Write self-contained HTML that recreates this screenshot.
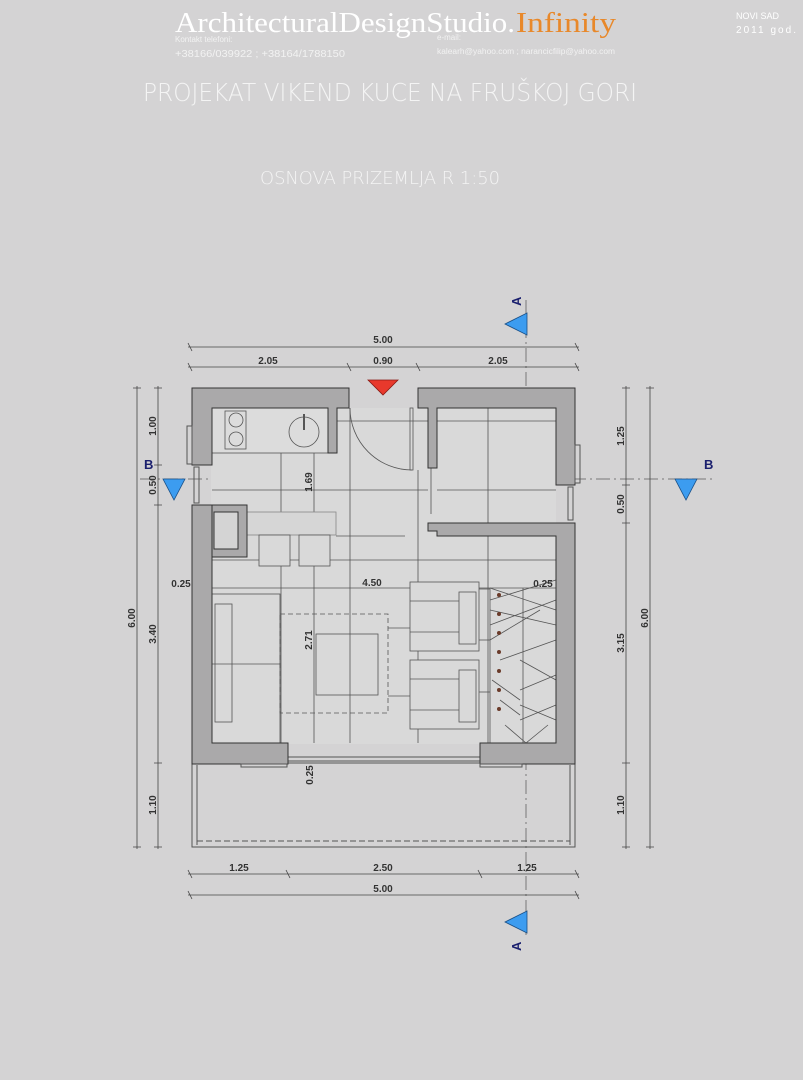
<!DOCTYPE html>
<html><head><meta charset="utf-8"><style>
html,body{margin:0;padding:0;background:#d4d3d4;}
svg{display:block;}
.d{font-family:"Liberation Sans",sans-serif;font-weight:bold;font-size:10px;fill:#333;}
</style></head><body>
<svg width="803" height="1080" viewBox="0 0 803 1080" xmlns="http://www.w3.org/2000/svg">
<rect width="803" height="1080" fill="#d4d3d4"/>
<!-- header -->
<text x="175" y="32" font-family="Liberation Serif,serif" font-size="29" fill="#fff" textLength="340" lengthAdjust="spacingAndGlyphs">ArchitecturalDesignStudio.</text>
<text x="516" y="32" font-family="Liberation Serif,serif" font-size="29" fill="#e8882a" textLength="100" lengthAdjust="spacingAndGlyphs">Infinity</text>
<text x="175" y="42" font-family="Liberation Sans,sans-serif" font-size="8" fill="#f2f2f2">Kontakt telefoni:</text>
<text x="175" y="57" font-family="Liberation Sans,sans-serif" font-size="10" fill="#f2f2f2" textLength="170" lengthAdjust="spacingAndGlyphs">+38166/039922 ; +38164/1788150</text>
<text x="437" y="40" font-family="Liberation Sans,sans-serif" font-size="8" fill="#f2f2f2">e-mail:</text>
<text x="437" y="54" font-family="Liberation Sans,sans-serif" font-size="8" fill="#f2f2f2" textLength="178" lengthAdjust="spacingAndGlyphs">kalearh@yahoo.com ; narancicfilip@yahoo.com</text>
<text x="736" y="19" font-family="Liberation Sans,sans-serif" font-size="9" fill="#fff">NOVI SAD</text>
<text x="736" y="33" font-family="Liberation Sans,sans-serif" font-size="10" fill="#fff" textLength="60">2011 god.</text>
<text x="143" y="101" font-family="DejaVu Sans,Liberation Sans,sans-serif" font-weight="200" font-size="25" fill="#f4f4f4" textLength="494" lengthAdjust="spacingAndGlyphs">PROJEKAT VIKEND KUCE NA FRUŠKOJ GORI</text>
<text x="260" y="184" font-family="DejaVu Sans,Liberation Sans,sans-serif" font-weight="200" font-size="18" fill="#f4f4f4" textLength="240" lengthAdjust="spacingAndGlyphs">OSNOVA PRIZEMLJA R 1:50</text>

<!-- section lines -->
<g stroke="#777" stroke-width="1" stroke-dasharray="14,4,2,4" fill="none">
<line x1="140" y1="479" x2="712" y2="479"/>
<line x1="526" y1="300" x2="526" y2="935"/>
</g>

<!-- floor -->
<rect x="211" y="408" width="345" height="336" fill="#d9d9d9"/>
<!-- balcony -->
<g fill="none" stroke="#555" stroke-width="1">
<rect x="192" y="763" width="383" height="84"/>
<line x1="197" y1="765" x2="197" y2="845"/>
<line x1="570" y1="765" x2="570" y2="845"/>
<line x1="197" y1="841" x2="570" y2="841" stroke-dasharray="6,3"/>
<line x1="288" y1="757" x2="480" y2="757"/>
<line x1="288" y1="761" x2="480" y2="761"/>
</g>

<!-- interior lines -->
<g fill="none" stroke="#555" stroke-width="0.8">
<line x1="281" y1="453" x2="281" y2="743"/>
<line x1="314" y1="453" x2="314" y2="743"/>
<line x1="350" y1="408" x2="350" y2="743"/>
<line x1="418" y1="470" x2="418" y2="743"/>
<line x1="337" y1="421" x2="428" y2="421"/>
<line x1="212" y1="490" x2="428" y2="490"/>
<line x1="437" y1="490" x2="556" y2="490"/>
<line x1="437" y1="421" x2="556" y2="421"/>
<line x1="488" y1="408" x2="488" y2="743"/>
<line x1="212" y1="560" x2="556" y2="560"/>
<line x1="212" y1="588" x2="556" y2="588"/>
<line x1="336" y1="536" x2="405" y2="536"/>
<!-- counter -->
<rect x="212" y="408" width="116" height="45" fill="#dcdcdc"/>
<rect x="225" y="411" width="21" height="38"/>
<circle cx="236" cy="420" r="7"/><circle cx="236" cy="439" r="7"/>
<circle cx="304" cy="432" r="15"/>
<line x1="304" y1="414" x2="304" y2="430" stroke-width="2"/>
<!-- bar -->
<rect x="247" y="512" width="89" height="23" fill="#d6d6d6" stroke="#888"/>
<rect x="259" y="535" width="31" height="31" fill="#d9d9d9"/>
<rect x="299" y="535" width="31" height="31" fill="#d9d9d9"/>
<!-- sofa -->
<rect x="212" y="594" width="68" height="149"/>
<rect x="215" y="604" width="17" height="118"/>
<line x1="212" y1="664" x2="280" y2="664"/>
<rect x="280" y="614" width="108" height="99" stroke-dasharray="5,3"/>
<rect x="316" y="634" width="62" height="61"/>
<!-- armchairs -->
<rect x="410" y="582" width="69" height="69" fill="#d9d9d9"/>
<rect x="459" y="592" width="17" height="52"/>
<line x1="410" y1="601" x2="459" y2="601"/><line x1="410" y1="632" x2="459" y2="632"/>
<rect x="410" y="660" width="69" height="69" fill="#d9d9d9"/>
<rect x="459" y="670" width="17" height="52"/>
<line x1="410" y1="679" x2="459" y2="679"/><line x1="410" y1="710" x2="459" y2="710"/>
<line x1="388" y1="628" x2="410" y2="628"/><line x1="388" y1="696" x2="410" y2="696"/>
<line x1="479" y1="589" x2="490" y2="589"/><line x1="479" y1="640" x2="490" y2="640"/><line x1="479" y1="692" x2="490" y2="692"/>
<!-- stairs -->
<line x1="490" y1="588" x2="490" y2="743"/>
<line x1="523" y1="588" x2="523" y2="743"/>
<path d="M490 588 L556 610 M490 600 L556 580 M490 610 L556 625 M490 625 L556 600 M490 640 L540 610 M500 660 L556 640 M492 680 L520 700 M520 660 L556 680 M520 690 L556 675 M520 705 L556 720 M520 720 L556 705 M500 700 L520 715 M505 725 L526 743 L548 725"/>
<circle cx="499" cy="595" r="2" fill="#6a3b2a" stroke="none"/><circle cx="499" cy="614" r="2" fill="#6a3b2a" stroke="none"/>
<circle cx="499" cy="633" r="2" fill="#6a3b2a" stroke="none"/><circle cx="499" cy="652" r="2" fill="#6a3b2a" stroke="none"/>
<circle cx="499" cy="671" r="2" fill="#6a3b2a" stroke="none"/><circle cx="499" cy="690" r="2" fill="#6a3b2a" stroke="none"/>
<circle cx="499" cy="709" r="2" fill="#6a3b2a" stroke="none"/>
<!-- door -->
<path d="M350 408 A62 62 0 0 0 412 470"/>
<rect x="410" y="408" width="3" height="62"/>
<rect x="432" y="413" width="3" height="52"/>
<line x1="431" y1="465" x2="431" y2="514"/>
</g>

<!-- walls -->
<g fill="#aaa9aa" stroke="#333" stroke-width="1">
<path d="M192 388 H349 V408 H337 V453 H328 V408 H212 V465 H192 Z"/>
<path d="M418 388 H575 V485 H556 V408 H437 V468 H428 V408 H418 Z"/>
<path d="M192 505 H212 V743 H288 V764 H192 Z"/>
<path d="M575 523 V764 H480 V743 H556 V536 H437 V531 H428 V523 Z"/>
<path d="M212 505 H247 V557 H212 Z"/>
</g>
<rect x="214" y="512" width="24" height="37" fill="#d4d4d4" stroke="#333"/>
<g fill="none" stroke="#555" stroke-width="1">
<rect x="187" y="426" width="5" height="38"/>
<rect x="194" y="467" width="5" height="36"/>
<rect x="575" y="445" width="5" height="38"/>
<rect x="568" y="487" width="5" height="33"/>
<rect x="241" y="764" width="46" height="3"/>
<rect x="480" y="764" width="42" height="3"/>
</g>

<!-- dimension lines -->
<g stroke="#444" stroke-width="0.8" fill="none">
<line x1="188" y1="347" x2="579" y2="347"/>
<line x1="188" y1="367" x2="579" y2="367"/>
<line x1="188" y1="874" x2="579" y2="874"/>
<line x1="188" y1="895" x2="579" y2="895"/>
<line x1="137" y1="386" x2="137" y2="849"/>
<line x1="158" y1="386" x2="158" y2="849"/>
<line x1="626" y1="386" x2="626" y2="849"/>
<line x1="650" y1="386" x2="650" y2="849"/>
<path d="M188 343 L192 351 M575 343 L579 351 M188 363 L192 371 M347 363 L351 371 M416 363 L420 371 M575 363 L579 371
M188 870 L192 878 M286 870 L290 878 M478 870 L482 878 M575 870 L579 878 M188 891 L192 899 M575 891 L579 899
M133 388 H141 M133 847 H141 M154 388 H162 M154 465 H162 M154 505 H162 M154 763 H162 M154 847 H162
M622 388 H630 M622 485 H630 M622 523 H630 M622 763 H630 M622 847 H630 M646 388 H654 M646 847 H654"/>
</g>
<g class="d" text-anchor="middle">
<text x="383" y="343">5.00</text>
<text x="268" y="364">2.05</text>
<text x="383" y="364">0.90</text>
<text x="498" y="364">2.05</text>
<text x="239" y="871">1.25</text>
<text x="383" y="871">2.50</text>
<text x="527" y="871">1.25</text>
<text x="383" y="892">5.00</text>
<text x="372" y="586">4.50</text>
<text x="543" y="587">0.25</text>
<text x="181" y="587">0.25</text>
<text transform="translate(135,618) rotate(-90)">6.00</text>
<text transform="translate(156,426) rotate(-90)">1.00</text>
<text transform="translate(156,485) rotate(-90)">0.50</text>
<text transform="translate(156,634) rotate(-90)">3.40</text>
<text transform="translate(156,805) rotate(-90)">1.10</text>
<text transform="translate(624,436) rotate(-90)">1.25</text>
<text transform="translate(624,504) rotate(-90)">0.50</text>
<text transform="translate(624,643) rotate(-90)">3.15</text>
<text transform="translate(624,805) rotate(-90)">1.10</text>
<text transform="translate(648,618) rotate(-90)">6.00</text>
<text transform="translate(312,482) rotate(-90)">1.69</text>
<text transform="translate(312,640) rotate(-90)">2.71</text>
<text transform="translate(313,775) rotate(-90)">0.25</text>
</g>

<!-- markers -->
<polygon points="368,380 398,380 383,395" fill="#e8392c" stroke="#8a1a14" stroke-width="0.8"/>
<polygon points="527,313 527,335 505,324" fill="#3c9cf0" stroke="#1a4f86" stroke-width="0.8"/>
<polygon points="527,911 527,933 505,922" fill="#3c9cf0" stroke="#1a4f86" stroke-width="0.8"/>
<polygon points="163,479 185,479 174,500" fill="#3c9cf0" stroke="#1a4f86" stroke-width="0.8"/>
<polygon points="675,479 697,479 686,500" fill="#3c9cf0" stroke="#1a4f86" stroke-width="0.8"/>
<g font-family="Liberation Sans,sans-serif" font-weight="bold" font-size="13" fill="#1a1f6e">
<text transform="translate(521,306) rotate(-90)">A</text>
<text transform="translate(521,951) rotate(-90)">A</text>
<text x="144" y="469">B</text>
<text x="704" y="469">B</text>
</g>
</svg>
</body></html>
